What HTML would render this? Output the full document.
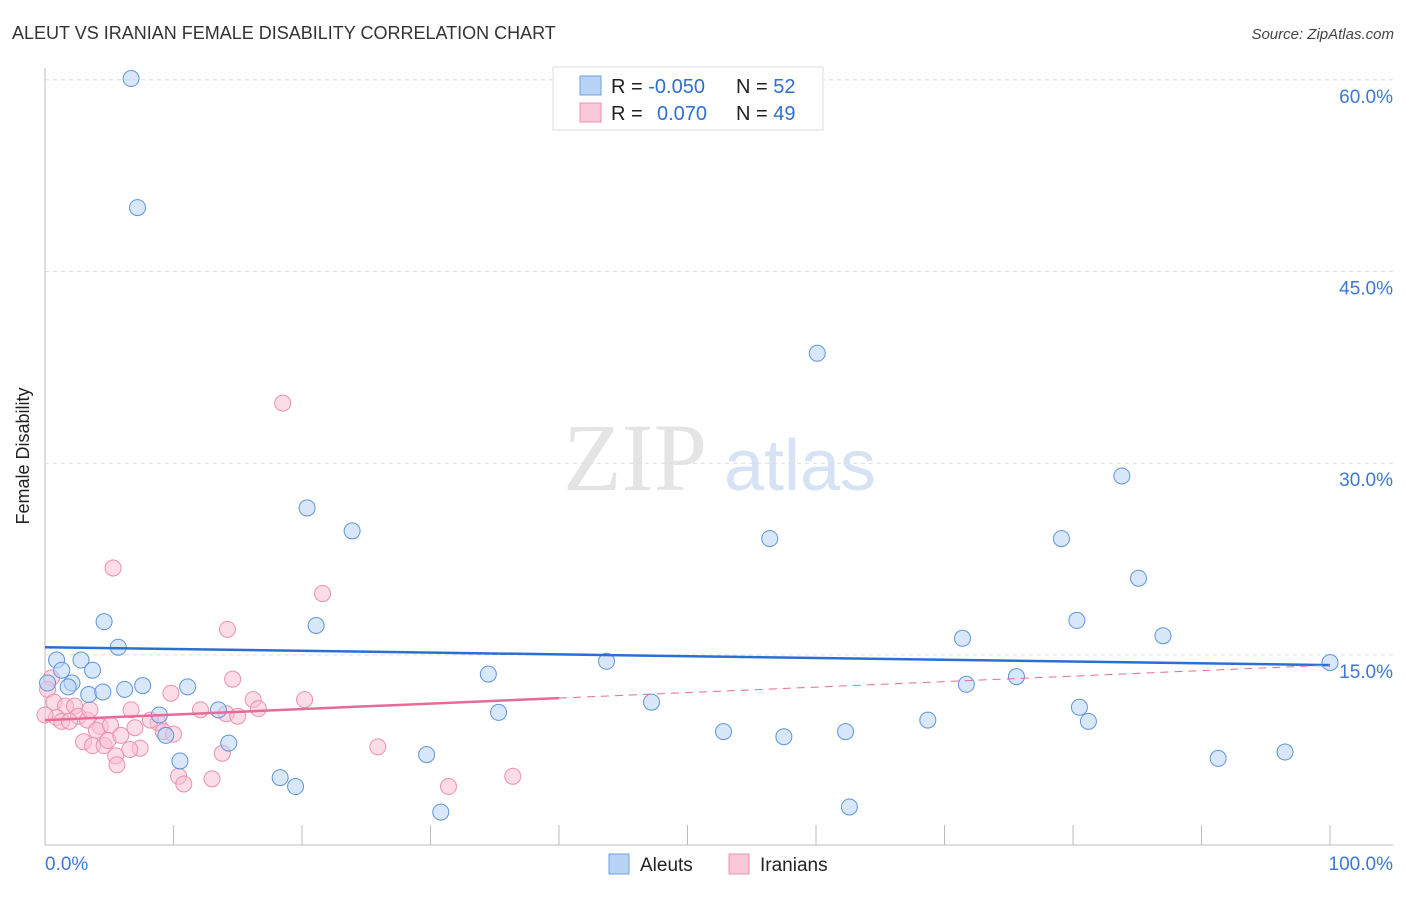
<!DOCTYPE html>
<html><head><meta charset="utf-8"><style>
body{margin:0;background:#fff;font-family:"Liberation Sans",sans-serif;}
svg text{font-family:"Liberation Sans",sans-serif;}
</style></head><body>
<svg id="c" width="1406" height="892">
<text x="12" y="39" font-size="18" fill="#333">ALEUT VS IRANIAN FEMALE DISABILITY CORRELATION CHART</text>
<text x="1394" y="39" font-size="15" fill="#444" font-style="italic" text-anchor="end">Source: ZipAtlas.com</text>
<text x="29" y="456" font-size="18" fill="#222" text-anchor="middle" transform="rotate(-90 29 456)">Female Disability</text>
<g><text x="635" y="490" font-size="96" fill="#e4e4e4" font-family="Liberation Serif" text-anchor="middle" style="font-family:'Liberation Serif',serif">ZIP</text><text x="800" y="490" font-size="72" fill="#d5e3f5" text-anchor="middle">atlas</text></g>
<g id="grid"></g><g id="marks"></g>
<g>
<rect x="553" y="67" width="270" height="63" fill="#fff" stroke="#ddd"/>
<rect x="580" y="76" width="21" height="19" fill="#b8d3f5" stroke="#6fa0e0"/>
<rect x="580" y="103" width="21" height="19" fill="#fac8d8" stroke="#eb92ae"/>
<text x="611" y="93" font-size="20" fill="#222">R = <tspan fill="#2f6fd0">-0.050</tspan></text>
<text x="736" y="93" font-size="20" fill="#222">N = <tspan fill="#2f6fd0">52</tspan></text>
<text x="611" y="120" font-size="20" fill="#222">R = <tspan fill="#2f6fd0" x="657">0.070</tspan></text>
<text x="736" y="120" font-size="20" fill="#222">N = <tspan fill="#2f6fd0">49</tspan></text>
</g>
<g>
<rect x="609" y="854" width="20" height="20" fill="#b8d3f5" stroke="#6fa0e0"/><text x="640" y="871" font-size="19" fill="#222">Aleuts</text>
<rect x="729" y="854" width="20" height="20" fill="#fac8d8" stroke="#eb92ae"/><text x="760" y="871" font-size="19" fill="#222">Iranians</text>
</g>
<text x="45" y="870" font-size="19" fill="#3b78d8">0.0%</text>
<text x="1393" y="870" font-size="19" fill="#3b78d8" text-anchor="end">100.0%</text>
</svg>
<script>
const yTicks=[60,45,30,15];
const blueX=[6.7,7.2,60.1,83.8,20.4,23.9,56.4,79.1,85.1,4.6,21.1,80.3,71.4,87.0,5.7,0.9,2.8,1.3,3.7,0.2,2.1,1.8,3.4,4.5,6.2,7.6,11.1,34.5,43.7,100,75.6,71.7,47.2,13.5,8.9,35.3,80.5,81.2,68.7,9.4,14.3,52.8,57.5,62.3,29.7,10.5,18.3,19.5,91.3,96.5,30.8,62.6];
const blueY=[60.1,50.0,38.6,29.0,26.5,24.7,24.1,24.1,21.0,17.6,17.3,17.7,16.3,16.5,15.6,14.6,14.6,13.8,13.8,12.8,12.8,12.5,11.9,12.1,12.3,12.6,12.5,13.5,14.5,14.4,13.3,12.7,11.3,10.7,10.3,10.5,10.9,9.8,9.9,8.7,8.1,9.0,8.6,9.0,7.2,6.7,5.4,4.7,6.9,7.4,2.7,3.1];
const pinkX=[18.5,5.3,21.6,14.2,14.6,9.8,20.2,16.2,16.6,12.1,14.1,15.0,6.7,0.5,0.2,0.7,1.6,2.3,0.9,1.3,2.6,3.3,4.3,4.0,5.1,7.0,8.8,9.2,10.0,3.0,3.7,4.6,4.9,5.9,7.4,6.6,5.5,5.6,13.8,25.9,10.4,10.8,13.0,31.4,36.4,1.9,0.0,8.2,3.5];
const pinkY=[34.7,21.8,19.8,17.0,13.1,12.0,11.5,11.5,10.8,10.7,10.4,10.2,10.7,13.2,12.3,11.3,11.0,11.0,10.1,9.8,10.2,9.9,9.4,9.1,9.5,9.3,9.7,9.0,8.8,8.2,7.9,7.9,8.3,8.7,7.7,7.6,7.1,6.4,7.3,7.8,5.5,4.9,5.3,4.7,5.5,9.8,10.3,9.9,10.7];
const blueTrend=[15.6,14.2];
const pinkTrend=[9.9,14.2];
const X=v=>45+v*12.85, Y=v=>846.6-v*12.78;
const NS="http://www.w3.org/2000/svg";
function mk(t,a,p){const e=document.createElementNS(NS,t);for(const k in a)e.setAttribute(k,a[k]);p.appendChild(e);return e;}
const g=document.getElementById('grid'),m=document.getElementById('marks');
let ax=mk('line',{x1:45,y1:68,x2:45,y2:845,stroke:'#bbb'},g);


let bx=mk('line',{x1:45,y1:845,x2:1393,y2:845,stroke:'#bbb'},g);


for(let i=1;i<=10;i++){let t=mk('line',{x1:X(i*10),x2:X(i*10),y1:825,y2:845,stroke:'#bbb'},g);

}
yTicks.forEach(v=>{let l=mk('line',{x1:45,x2:1393,y1:Y(v),y2:Y(v),stroke:'#ddd','stroke-dasharray':'4,4'},g);


let t=mk('text',{x:1393,y:Y(v)+23,'font-size':19,fill:'#3b78d8','text-anchor':'end'},g);t.textContent=v.toFixed(1)+'%';

});
function dots(xs,ys,f,s,n){xs.forEach((x,i)=>{let c=mk('circle',{cx:X(x),cy:Y(ys[i]),r:8,fill:f,'fill-opacity':0.55,stroke:s,'stroke-width':1},m);

});}
dots(pinkX,pinkY,'#f9c0d2','#eb92ae','iranian-point');
dots(blueX,blueY,'#b8d3f5','#5d95dc','aleut-point');
let bl=mk('line',{x1:X(0),y1:Y(blueTrend[0]),x2:X(100),y2:Y(blueTrend[1]),stroke:'#2a6fd6','stroke-width':2.5},m);


const pm=pinkTrend[0]+(pinkTrend[1]-pinkTrend[0])*0.4;
let pl=mk('line',{x1:X(0),y1:Y(pinkTrend[0]),x2:X(40),y2:Y(pm),stroke:'#e86a98','stroke-width':2.5},m);


let pd=mk('line',{x1:X(40),y1:Y(pm),x2:X(100),y2:Y(pinkTrend[1]),stroke:'#e86a98','stroke-width':1,'stroke-dasharray':'8,6'},m);


</script>
</body></html>
